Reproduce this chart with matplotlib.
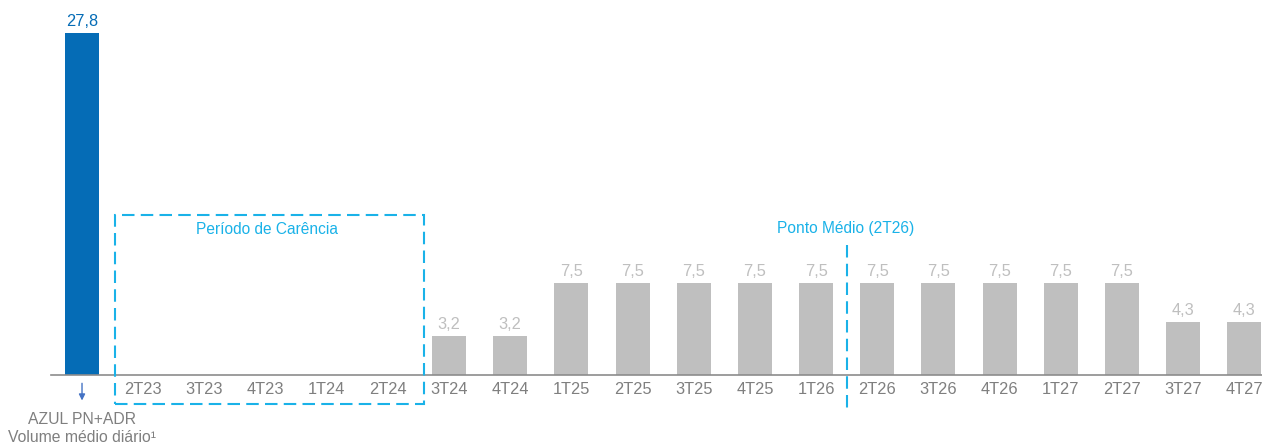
import numpy as np
import matplotlib
matplotlib.use("Agg")
from matplotlib import pyplot as plt
from matplotlib.patches import Rectangle

plt.rcParams['font.family'] = ['Liberation Sans', 'DejaVu Sans']

# dados
categorias = ["", "2T23", "3T23", "4T23", "1T24", "2T24", "3T24", "4T24",
              "1T25", "2T25", "3T25", "4T25", "1T26", "2T26", "3T26", "4T26",
              "1T27", "2T27", "3T27", "4T27"]
valores = [27.8, 0, 0, 0, 0, 0, 3.2, 3.2, 7.5, 7.5, 7.5, 7.5, 7.5, 7.5, 7.5,
           7.5, 7.5, 7.5, 4.3, 4.3]
rotulos = ["27,8", "", "", "", "", "", "3,2", "3,2", "7,5", "7,5", "7,5", "7,5",
           "7,5", "7,5", "7,5", "7,5", "7,5", "7,5", "4,3", "4,3"]

azul = "#056CB6"
ciano = "#1AB2E8"
cinza = "#BFBFBF"
cinza_txt = "#7F7F7F"

fig = plt.figure(figsize=(12.62, 4.43), dpi=100)
ax = fig.add_axes([51/1262, 68/443, 1 - 51/1262, 375/443])

x = np.arange(len(categorias))
cores = [azul] + [cinza]*(len(categorias)-1)
ax.bar(x, valores, width=0.556, color=cores, zorder=2)

for i, (v, r) in enumerate(zip(valores, rotulos)):
    if r:
        ax.text(i, v + 0.3, r, ha="center", va="bottom", fontsize=11.8,
                color=azul if i == 0 else cinza)

ax.set_xlim(-0.507, 19.29)
ax.set_ylim(0, 30.49)
ax.set_xticks(x[1:])
ax.set_xticklabels(categorias[1:], fontsize=11.8, color=cinza_txt)
ax.tick_params(axis="x", length=0, pad=5)
ax.set_yticks([])
for s in ["top", "right", "left"]:
    ax.spines[s].set_visible(False)
ax.spines["bottom"].set_color("#8C8C8C")
ax.spines["bottom"].set_linewidth(1.2)

# periodo de carencia
ret = Rectangle((0.54, -2.36), 5.05, 15.36, fill=False, edgecolor=ciano,
                linewidth=1.5, linestyle=(0, (6, 3)), clip_on=False, zorder=3)
ax.add_patch(ret)
ax.text(3.02, 11.8, "Período de Carência", ha="center", va="center",
        fontsize=11.2, color=ciano)

# ponto medio
ax.plot([12.5, 12.5], [10.6, -3.0], color=ciano, linewidth=1.5,
        linestyle=(0, (6, 3)), clip_on=False)
ax.text(12.48, 11.9, "Ponto Médio (2T26)", ha="center", va="center",
        fontsize=11.2, color=ciano)

# seta
ax.annotate("", xy=(0, -2.3), xytext=(0, -0.45),
            arrowprops=dict(arrowstyle="-|>", color="#4472C4", lw=1,
                            mutation_scale=9), annotation_clip=False)
ax.text(0, -3.0, "AZUL PN+ADR", ha="center", va="top", fontsize=11.3,
        color=cinza_txt)
ax.text(0, -4.45, "Volume médio diário¹", ha="center", va="top",
        fontsize=11.3, color=cinza_txt)

fig.savefig("out.png", dpi=100)
